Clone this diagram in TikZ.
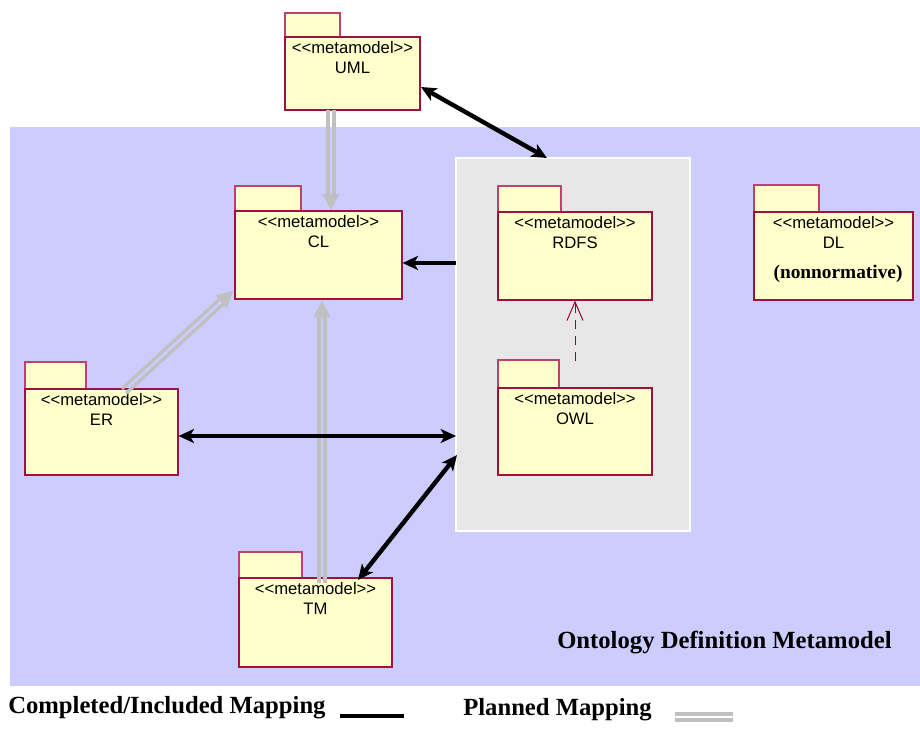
\documentclass[tikz,border=0pt]{standalone}
\usepackage{fontspec}
\usetikzlibrary{arrows.meta,calc,fit}
\newfontfamily\pkgfont{Liberation Sans}
\newfontfamily\labfont{Liberation Serif}
\definecolor{odmbg}{HTML}{CCCCFF}
\definecolor{boxgrey}{HTML}{E7E7E7}
\definecolor{pkgfill}{HTML}{FFFFCC}
\definecolor{pkgedge}{HTML}{A0103F}
\definecolor{tabedge}{HTML}{C04070}
\definecolor{plangrey}{HTML}{C0C0C0}
\definecolor{depcolor}{HTML}{990033}

% UML package: tab, body, stereotype and name
% #1 name, #2 x1, #3 y1 (body top), #4 x2, #5 y2, #6 tab right, #7 tab top, #8 label
\newcommand\metapackage[8]{%
  \draw[pkgtab] (#2,#3) rectangle (#6,#7);
  \node[pkg, fit={(#2,#3)(#4,#5)}] (#1) {};
  \node[pkgtext] (#1-st) at ($(#1.north)+(0,11)$) {<\kern0pt<metamodel>\kern0pt>};
  \node[pkgtext] (#1-nm) at ($(#1.north)+(0,31)$) {#8};
}

% planned mapping: grey double shaft with a filled head
\newcommand\plannedlink[2]{%
  \draw[plangrey, line width=2.5pt, shorten >=10pt] ($(#1)!2.3pt!90:(#2)$) -- ($(#2)!2.3pt!-90:(#1)$);
  \draw[plangrey, line width=2.5pt, shorten >=10pt] ($(#1)!2.3pt!-90:(#2)$) -- ($(#2)!2.3pt!90:(#1)$);
  \draw[plangrey, line width=0.5pt, -{Triangle[length=12pt,width=12.5pt]}] ($(#2)!10pt!(#1)$) -- (#2);
}

\begin{document}
\begin{tikzpicture}[x=0.75pt,y=-0.75pt,
  pkg/.style={draw=pkgedge, fill=pkgfill, line width=0.9pt, inner sep=0pt},
  pkgtab/.style={draw=tabedge, fill=pkgfill, line width=0.9pt},
  pkgtext/.style={font=\pkgfont\fontsize{12.5}{14}\selectfont, inner sep=0pt},
  bigbold/.style={font=\labfont\bfseries\fontsize{18.5}{22}\selectfont, inner sep=0pt},
  notebold/.style={font=\labfont\bfseries\fontsize{14.5}{17}\selectfont, inner sep=0pt},
  done/.style={line width=3.3pt, {Stealth[length=11.5pt,width=10.5pt,inset=3pt]}-{Stealth[length=11.5pt,width=10.5pt,inset=3pt]}},
  doneto/.style={line width=3.3pt, -{Stealth[length=11.5pt,width=10.5pt,inset=3pt]}},
]
\useasboundingbox (0,0) rectangle (920,728);
\fill[white] (0,0) rectangle (920,728);

% ODM area and the RDFS/OWL group
\node[fit={(10,127)(920,686)}, fill=odmbg, inner sep=0pt] (odm) {};
\node[fit={(456,158)(690,531)}, fill=boxgrey, draw=white, line width=1.5pt, inner sep=0pt] (owlbox) {};

% packages
\metapackage{uml}{285}{37}{420}{110}{340}{13}{UML}
\metapackage{cl}{235}{211}{402}{299}{301}{186}{CL}
\metapackage{er}{25}{389}{178}{475}{86}{362}{ER}
\metapackage{rdfs}{498}{212}{652}{300}{561}{186}{RDFS}
\metapackage{owl}{498}{388}{652}{475}{559}{360}{OWL}
\metapackage{dl}{754}{212}{913}{300}{819}{185}{DL}
\metapackage{tm}{239}{578}{392}{667}{302}{552}{TM}
\node[notebold, anchor=base] (dl-note) at (838,278) {(nonnormative)};

% OWL depends on RDFS
\coordinate (owlDep) at ($(owl.north)+(0,-26)$);
\draw[depcolor, line width=0.75pt, dash pattern=on 7pt off 5pt,
      -{Straight Barb[length=14pt,width=12pt]}] (owlDep) -- (rdfs.south);

% planned mappings
\coordinate (pU1) at (331,110);
\coordinate (pU2) at (331,210);
\coordinate (pE1) at (124,391);
\coordinate (pE2) at (233,291);
\coordinate (pT1) at (322,583);
\coordinate (pT2) at (322,301);
\plannedlink{pU1}{pU2}
\plannedlink{pE1}{pE2}
\plannedlink{pT1}{pT2}

% completed mappings
\coordinate (umlEnd) at (421,87);
\coordinate (gU) at (547,158);
\draw[done] (umlEnd) -- (gU);
\coordinate (gCL) at (456,263);
\draw[doneto] (gCL) -- (gCL -| cl.east);
\coordinate (gER) at (456,436);
\draw[done] (gER -| er.east) -- (gER);
\coordinate (tmEnd) at (358,580);
\coordinate (gTM) at (457,455);
\draw[done] (tmEnd) -- (gTM);

% title
\node[bigbold, anchor=base west] (odm-title) at (557,648) {Ontology Definition Metamodel};

% legend
\node[bigbold, anchor=base west] (leg-done) at (8,713) {Completed/Included Mapping};
\coordinate (ld1) at (340,716);
\coordinate (ld2) at (404,716);
\draw[line width=3pt] (ld1) -- (ld2);
\node[bigbold, anchor=base west] (leg-plan) at (463,715) {Planned Mapping};
\coordinate (lp1) at (675,714);
\coordinate (lp2) at (733,714);
\coordinate (lp3) at (675,720);
\coordinate (lp4) at (733,720);
\draw[plangrey, line width=2.6pt] (lp1) -- (lp2);
\draw[plangrey, line width=2.6pt] (lp3) -- (lp4);
\end{tikzpicture}
\end{document}
